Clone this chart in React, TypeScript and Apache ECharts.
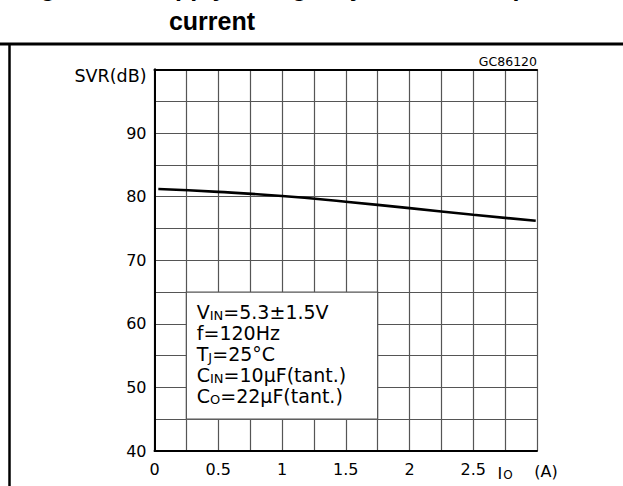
import React, { useEffect, useRef } from 'react';
import * as echarts from 'echarts';

// Output current Io (A) and supply voltage rejection (dB)
const currentA = [0.03, 0.5, 1, 1.5, 2, 2.5, 2.99];
const svrDb = [81.2, 80.75, 80.1, 79.2, 78.2, 77.15, 76.2];

const xTickLabels = ['0', '0.5', '1', '1.5', '2', '2.5'];
const yTickLabels = ['40', '50', '60', '70', '80', '90'];

const conditionLines = [
  'V{s|IN}=5.3±1.5V',
  'f=120Hz',
  'T{s|J}=25°C',
  'C{s|IN}=10μF(tant.)',
  'C{s|O}=22μF(tant.)',
];

// legend box extent in data units
const boxX = [0.25, 1.75];
const boxY = [65, 45];

const FONT = 'DejaVu Sans';

export default function App() {
  const ref = useRef<HTMLDivElement>(null);
  useEffect(() => {
    document.body.style.margin = '0';
    const chart = echarts.init(ref.current!, null, { renderer: 'svg' });
    const gridLine = { color: '#555', width: 1.2 };
    const frame = { show: true, lineStyle: { color: '#000', width: 2 } };
    chart.setOption({
      animation: false,
      backgroundColor: '#fff',
      grid: { left: 154.5, right: 86, top: 69.5, bottom: 35, outerBoundsMode: 'none' },
      xAxis: [
        {
          type: 'value', min: 0, max: 3, interval: 0.25,
          axisLine: frame, axisTick: { show: false },
          splitLine: { show: true, lineStyle: gridLine },
          axisLabel: {
            margin: 10, fontSize: 16, fontFamily: FONT, color: '#000',
            formatter: (v: number) => {
              const s = String(+v.toFixed(2));
              if (xTickLabels.includes(s)) return s;
              if (Math.abs(v - 2.75) < 1e-6) return '{i|I}{o|O}';
              if (Math.abs(v - 3) < 1e-6) return '{a|(A)}';
              return '';
            },
            rich: {
              i: { fontSize: 16, fontFamily: FONT, color: '#000', verticalAlign: 'bottom', lineHeight: 20 },
              o: { fontSize: 12, fontFamily: FONT, color: '#000', verticalAlign: 'bottom', lineHeight: 16, padding: [0, 0, 0, 1] },
              a: { fontSize: 16, fontFamily: FONT, color: '#000', padding: [0, 0, 0, 18], lineHeight: 20 },
            },
          },
        },
        {
          type: 'value', min: 0, max: 3, position: 'top',
          axisLine: frame, axisTick: { show: false }, axisLabel: { show: false }, splitLine: { show: false },
        },
      ],
      yAxis: [
        {
          type: 'value', min: 40, max: 100, interval: 5,
          axisLine: frame, axisTick: { show: false },
          splitLine: { show: true, lineStyle: gridLine },
          axisLabel: {
            margin: 8, fontSize: 16, fontFamily: FONT, color: '#000',
            formatter: (v: number) => {
              if (v === 100) return '{n|SVR(dB)}';
              const s = String(v);
              return yTickLabels.includes(s) ? s : '';
            },
            rich: {
              n: { fontSize: 17.5, fontFamily: FONT, color: '#000', padding: [12, 0, 0, 0] },
            },
          },
        },
        {
          type: 'value', min: 40, max: 100, position: 'right',
          axisLine: frame, axisTick: { show: false }, axisLabel: { show: false }, splitLine: { show: false },
        },
      ],
      series: [
        {
          type: 'line',
          data: currentA.map((x, i) => [x, svrDb[i]]),
          smooth: true,
          showSymbol: false,
          silent: true,
          lineStyle: { color: '#000', width: 2.6 },
          markArea: {
            silent: true,
            itemStyle: { color: '#fff', borderColor: '#555', borderWidth: 1.2 },
            label: {
              show: true,
              position: 'insideTopLeft',
              distance: 0,
              padding: [10, 0, 0, 11],
              fontSize: 19,
              fontFamily: FONT,
              color: '#000',
              lineHeight: 21,
              formatter: conditionLines.join('\n'),
              rich: {
                s: { fontSize: 13, fontFamily: FONT, color: '#000', verticalAlign: 'bottom', lineHeight: 14 },
              },
            },
            data: [[{ coord: [boxX[0], boxY[0]] }, { coord: [boxX[1], boxY[1]] }]],
          },
        },
      ],
      graphic: [
        {
          type: 'text', x: 18, y: -1,
          style: { text: 'Figure 12. Supply voltage rejection vs output', font: 'bold 25px "Liberation Sans"', fill: '#000', verticalAlign: 'bottom' },
        },
        {
          type: 'text', x: 212, y: 21,
          style: { text: 'current', font: 'bold 25px "Liberation Sans"', fill: '#000', align: 'center', verticalAlign: 'middle' },
        },
        {
          type: 'line', shape: { x1: 0, y1: 44, x2: 623, y2: 44 },
          style: { stroke: '#000', lineWidth: 3 },
        },
        {
          type: 'line', shape: { x1: 9.5, y1: 44, x2: 9.5, y2: 486 },
          style: { stroke: '#000', lineWidth: 2.5 },
        },
        {
          type: 'text', x: 537, y: 61,
          style: { text: 'GC86120', font: '12.5px "DejaVu Sans"', fill: '#000', align: 'right', verticalAlign: 'middle' },
        },
      ],
    });
    return () => chart.dispose();
  }, []);
  return <div ref={ref} style={{ width: 623, height: 486 }} />;
}
